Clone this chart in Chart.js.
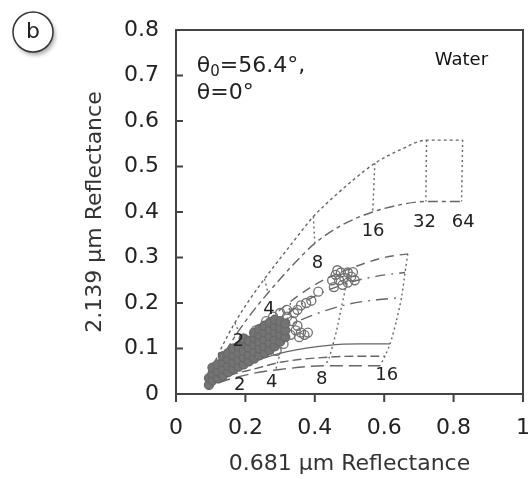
<!DOCTYPE html>
<html>
<head>
<meta charset="utf-8">
<script src="https://cdn.jsdelivr.net/npm/chart.js@4"></script>
<style>
  html, body { margin: 0; padding: 0; background: #fff; overflow: hidden; }
  #wrap { width: 543px; height: 479px; }
</style>
</head>
<body>
<div id="wrap"><canvas id="myChart" width="543" height="479"></canvas></div>
<script>
// observations (0.681 um refl, 2.139 um refl)
const obsCore = [
  [0.095,0.02],[0.095,0.035],[0.105,0.03],[0.105,0.045],[0.105,0.058],
  [0.12,0.035],[0.12,0.05],[0.12,0.065],
  [0.135,0.04],[0.135,0.055],[0.135,0.07],[0.135,0.083],
  [0.15,0.048],[0.15,0.062],[0.15,0.077],[0.15,0.09],
  [0.165,0.055],[0.165,0.07],[0.165,0.085],[0.165,0.1],
  [0.18,0.06],[0.18,0.075],[0.18,0.09],[0.18,0.105],
  [0.195,0.065],[0.195,0.08],[0.195,0.095],[0.195,0.11],[0.195,0.122],
  [0.21,0.072],[0.21,0.087],[0.21,0.102],[0.21,0.117],
  [0.225,0.078],[0.225,0.093],[0.225,0.108],[0.225,0.123],[0.225,0.135],
  [0.24,0.085],[0.24,0.1],[0.24,0.115],[0.24,0.13],[0.24,0.143],
  [0.255,0.09],[0.255,0.105],[0.255,0.12],[0.255,0.135],[0.255,0.15],
  [0.27,0.097],[0.27,0.112],[0.27,0.127],[0.27,0.142],[0.27,0.157],
  [0.285,0.105],[0.285,0.12],[0.285,0.135],[0.285,0.15],[0.285,0.163],
  [0.30,0.115],[0.30,0.13],[0.30,0.145],[0.30,0.16],
  [0.315,0.125],[0.315,0.14],[0.315,0.155]
];
const obsOpen = [
  [0.32,0.17],[0.33,0.13],[0.335,0.16],[0.34,0.178],[0.345,0.14],[0.355,0.125],
  [0.36,0.135],[0.37,0.13],[0.38,0.135],[0.31,0.11],[0.29,0.095],[0.35,0.185],
  [0.36,0.195],[0.375,0.2],[0.39,0.205],[0.41,0.225],[0.455,0.235],[0.45,0.25],
  [0.46,0.262],[0.47,0.25],[0.475,0.267],[0.48,0.24],[0.485,0.255],[0.495,0.267],
  [0.495,0.245],[0.505,0.258],[0.51,0.268],[0.515,0.25],[0.465,0.272],
  [0.23,0.14],[0.26,0.16],[0.28,0.17],[0.30,0.178],[0.32,0.185],[0.35,0.15]
];

// lookup table curves
const upperDotted = [[0.10,0.05],[0.13,0.10],[0.17,0.157],[0.21,0.205],[0.25,0.248],[0.29,0.288],[0.33,0.327],[0.396,0.39],[0.45,0.43],[0.51,0.47],[0.573,0.507],[0.65,0.538],[0.722,0.558],[0.826,0.558]];
const upperDashed = [[0.11,0.05],[0.14,0.09],[0.18,0.138],[0.22,0.18],[0.265,0.222],[0.33,0.278],[0.40,0.331],[0.48,0.372],[0.567,0.40],[0.64,0.415],[0.72,0.423],[0.823,0.423]];
const midDashed = [[0.11,0.045],[0.2,0.115],[0.3,0.185],[0.4,0.24],[0.5,0.275],[0.6,0.3],[0.668,0.308]];
const midDashDot1 = [[0.11,0.042],[0.2,0.105],[0.3,0.165],[0.4,0.215],[0.5,0.245],[0.58,0.259],[0.66,0.267]];
const midDashDot2 = [[0.11,0.038],[0.2,0.09],[0.3,0.14],[0.4,0.175],[0.5,0.198],[0.58,0.207],[0.65,0.212]];
const lowSolid = [[0.12,0.03],[0.16,0.05],[0.22,0.07],[0.32,0.093],[0.44,0.107],[0.53,0.11],[0.617,0.11]];
const lowDashed = [[0.12,0.028],[0.16,0.042],[0.22,0.054],[0.31,0.071],[0.44,0.081],[0.52,0.083],[0.602,0.083]];
const lowLongDash = [[0.12,0.024],[0.16,0.034],[0.22,0.045],[0.30,0.054],[0.43,0.062],[0.588,0.062]];

// optical thickness connectors
const upTau2 = [[0.17,0.157],[0.18,0.138]];
const upTau4 = [[0.255,0.253],[0.265,0.222]];
const upTau8 = [[0.396,0.39],[0.40,0.331]];
const upTau16 = [[0.573,0.507],[0.567,0.40]];
const upTau32 = [[0.722,0.558],[0.72,0.423]];
const upTau64 = [[0.826,0.558],[0.823,0.423]];
const lowTau4 = [[0.33,0.2],[0.322,0.17],[0.31,0.13],[0.30,0.09],[0.293,0.07],[0.288,0.054]];
const lowTau8 = [[0.50,0.275],[0.492,0.245],[0.478,0.195],[0.463,0.14],[0.452,0.108],[0.442,0.081],[0.43,0.062]];
const lowTau16 = [[0.668,0.308],[0.66,0.267],[0.65,0.212],[0.635,0.16],[0.617,0.11],[0.602,0.083],[0.588,0.062]];

// tau labels: text, x, y (data units)
const tauLabels = [
  ['2',0.18,0.115],['4',0.268,0.185],['8',0.408,0.287],['16',0.568,0.358],['32',0.716,0.377],['64',0.828,0.377],
  ['2',0.184,0.02],['4',0.276,0.026],['8',0.42,0.033],['16',0.607,0.04]
];

const xTicks = [0, 0.2, 0.4, 0.6, 0.8, 1];
const yTicks = [0, 0.1, 0.2, 0.3, 0.4, 0.5, 0.6, 0.7, 0.8];

const FONT = 'DejaVu Sans';
const pts = arr => arr.map(p => ({x: p[0], y: p[1]}));

function curve(arr, dash, width, mono) {
  return {
    data: pts(arr), showLine: true, pointRadius: 0,
    borderColor: '#666', borderWidth: width || 1.4, borderDash: dash,
    cubicInterpolationMode: mono ? 'monotone' : 'default', tension: mono ? 0 : 0.2
  };
}

const overlay = {
  id: 'overlay',
  afterDraw(chart) {
    const {ctx, chartArea: a, scales: {x, y}} = chart;
    ctx.save();
    ctx.strokeStyle = '#444';
    ctx.lineWidth = 2;
    ctx.beginPath();
    ctx.moveTo(a.left, a.top); ctx.lineTo(a.right, a.top); ctx.lineTo(a.right, a.bottom);
    y.ticks.forEach(t => { const p = y.getPixelForValue(t.value); ctx.moveTo(a.left, p); ctx.lineTo(a.left + 7, p); });
    x.ticks.forEach(t => { const p = x.getPixelForValue(t.value); ctx.moveTo(p, a.bottom); ctx.lineTo(p, a.bottom + 8); });
    ctx.stroke();

    ctx.fillStyle = '#222';
    ctx.textBaseline = 'middle';
    ctx.textAlign = 'center';
    ctx.font = '18px "' + FONT + '"';
    tauLabels.forEach(l => ctx.fillText(l[0], x.getPixelForValue(l[1]), y.getPixelForValue(l[2])));

    // geometry text
    ctx.textAlign = 'left';
    let tx = x.getPixelForValue(0.06), ty = y.getPixelForValue(0.72);
    ctx.font = '22px "' + FONT + '"';
    ctx.fillText('θ', tx, ty);
    tx += ctx.measureText('θ').width;
    ctx.font = '15px "' + FONT + '"';
    ctx.fillText('0', tx, ty + 6);
    tx += ctx.measureText('0').width;
    ctx.font = '22px "' + FONT + '"';
    ctx.fillText('=56.4°,', tx, ty);
    ctx.fillText('θ=0°', x.getPixelForValue(0.06), y.getPixelForValue(0.66));

    ctx.font = '18px "' + FONT + '"';
    ctx.fillStyle = '#111';
    ctx.fillText('Water', x.getPixelForValue(0.746), y.getPixelForValue(0.733));

    // panel letter
    ctx.save();
    ctx.shadowColor = 'rgba(0,0,0,0.35)';
    ctx.shadowBlur = 4; ctx.shadowOffsetX = 2; ctx.shadowOffsetY = 3;
    ctx.beginPath(); ctx.arc(33, 32, 20, 0, Math.PI * 2);
    ctx.fillStyle = '#fff'; ctx.fill();
    ctx.restore();
    ctx.beginPath(); ctx.arc(33, 32, 20, 0, Math.PI * 2);
    ctx.lineWidth = 1.5; ctx.strokeStyle = '#333'; ctx.stroke();
    ctx.fillStyle = '#222';
    ctx.textAlign = 'center';
    ctx.font = '22px "' + FONT + '"';
    ctx.fillText('b', 33, 32);
    ctx.restore();
  }
};

const chart = new Chart(document.getElementById('myChart'), {
  type: 'scatter',
  data: {
    datasets: [
      { data: pts(obsOpen), pointRadius: 4.5, borderWidth: 1.3, pointBorderColor: '#707070', pointBackgroundColor: 'rgba(255,255,255,0)' },
      { data: pts(obsCore), pointRadius: 4.5, borderWidth: 1.3, pointBorderColor: '#686868', pointBackgroundColor: '#747474' },
      curve(upperDotted, [3, 3], 1.4, true),
      curve(upperDashed, [10, 4, 4, 4], 1.4, true),
      curve(midDashed, [9, 6], 1.4, true),
      curve(midDashDot1, [10, 6, 2, 6], 1.4, true),
      curve(midDashDot2, [12, 6, 2, 6], 1.4, true),
      curve(lowSolid, [], 1.2, true),
      curve(lowDashed, [9, 4], 1.4, true),
      curve(lowLongDash, [13, 6], 1.4, true),
      curve(upTau2, [2, 3]), curve(upTau4, [2, 3]), curve(upTau8, [2, 3]),
      curve(upTau16, [2, 3]), curve(upTau32, [2, 3]), curve(upTau64, [2, 3]),
      curve(lowTau4, [2, 3]), curve(lowTau8, [2, 3]), curve(lowTau16, [2, 3])
    ]
  },
  options: {
    responsive: false,
    animation: false,
    devicePixelRatio: 1,
    layout: { padding: { left: 82, top: 30, right: 0, bottom: 0 } },
    plugins: { legend: { display: false }, tooltip: { enabled: false } },
    scales: {
      x: {
        type: 'linear', min: 0, max: 1,
        afterBuildTicks: s => { s.ticks = xTicks.map(v => ({value: v})); },
        afterFit: s => { s.height = 85; },
        grid: { display: false },
        border: { color: '#444', width: 2 },
        ticks: { padding: 13, maxRotation: 0, autoSkip: false, color: '#222', font: { family: FONT, size: 22 }, callback: v => String(v) },
        title: { display: true, text: '0.681 µm Reflectance', color: '#333', font: { family: FONT, size: 22 }, padding: { top: 0, bottom: 2 } }
      },
      y: {
        type: 'linear', min: 0, max: 0.8,
        afterBuildTicks: s => { s.ticks = yTicks.map(v => ({value: v})); },
        afterFit: s => { s.width = 94; },
        grid: { display: false },
        border: { color: '#444', width: 2 },
        ticks: { padding: 9, autoSkip: false, color: '#222', font: { family: FONT, size: 22 }, callback: v => String(v) },
        title: { display: true, text: '2.139 µm Reflectance', color: '#333', font: { family: FONT, size: 22 }, padding: 0 }
      }
    }
  },
  plugins: [overlay]
});
</script>
</body>
</html>
